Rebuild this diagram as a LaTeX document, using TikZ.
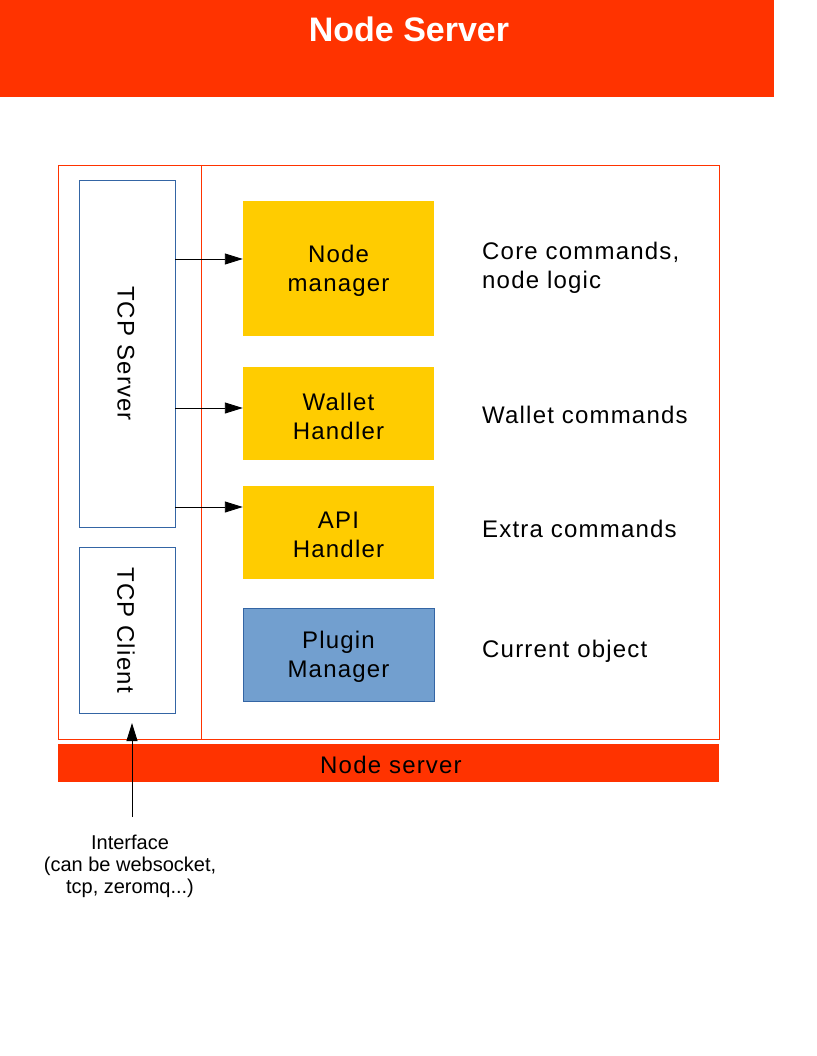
\documentclass[tikz,border=0pt]{standalone}
\usepackage{fontspec}
\setmainfont{Liberation Sans}
\newfontfamily\spacedfont{Liberation Sans}[LetterSpace=5]
\usetikzlibrary{arrows.meta}
\definecolor{hred}{HTML}{FF3300}
\definecolor{yel}{HTML}{FFCC00}
\definecolor{lblue}{HTML}{729FCF}
\definecolor{dblue}{HTML}{3465A4}
\tikzset{
  big/.style={font=\spacedfont\fontsize{24}{29}\selectfont},
  ybox/.style={big, fill=yel, draw=none, minimum width=191pt, align=center, inner sep=0pt},
  tcpbox/.style={draw=dblue, line width=0.8pt, fill=white, minimum width=96pt, inner sep=0pt},
  lbl/.style={big, anchor=west, align=left, inner sep=0pt},
  arr/.style={-{Triangle[length=18pt,width=11pt]}, line width=0.9pt, black},
}
\begin{document}
\begin{tikzpicture}[x=1pt,y=-1pt]
\useasboundingbox[fill=white] (0,0) rectangle (816,1056);
% header
\fill[hred] (0,0) rectangle (774,97);
\node[anchor=base, text=white, inner sep=0pt, font=\fontsize{34}{40}\selectfont\bfseries] (title) at (409,42) {Node Server};
% frame
\draw[hred, line width=0.8pt] (58,165) rectangle (719,739);
\draw[hred, line width=0.8pt] (201,165) -- (201,739);
% TCP boxes
\node[tcpbox, minimum height=347pt] (tcps) at (127,353.5) {};
\node[big, rotate=-90] (tcpst) at (126,353.5) {TCP Server};
\node[tcpbox, minimum height=166pt] (tcpc) at (127,630) {};
\node[big, rotate=-90] (tcpct) at (126,630) {TCP Client};
% modules
\node[ybox, minimum height=135pt] (nm) at (338.5,268.5) {};
\node[big, align=center] (nmt) at (338.5,271) {Node\\manager};
\node[ybox, minimum height=93pt] (wh) at (338.5,413.5) {};
\node[big, align=center] (wht) at (338.5,416) {Wallet\\Handler};
\node[ybox, minimum height=93pt] (ah) at (338.5,532.5) {};
\node[big, align=center] (aht) at (338.5,535) {API\\Handler};
\node[ybox, fill=lblue, draw=dblue, line width=0.8pt, minimum height=93pt] (pm) at (338.5,654.5) {};
\node[big, align=center] (pmt) at (338.5,657) {Plugin\\Manager};
% labels
\node[lbl] (l1) at (482,268) {Core commands,\\node logic};
\node[lbl] (l2) at (482,415) {Wallet commands};
\node[lbl] (l3) at (482,529) {Extra commands};
\node[lbl] (l4) at (482,651) {Current object};
% arrows
\draw[arr] (tcps.east |- 0,259) -- (nm.west |- 0,259);
\draw[arr] (tcps.east |- 0,408) -- (wh.west |- 0,408);
\draw[arr] (tcps.east |- 0,507) -- (ah.west |- 0,507);
% bottom bar
\fill[hred] (58,744) rectangle (719,782);
\node[big, inner sep=0pt] (ns) at (391,765) {Node server};
% interface
\node[align=center, inner sep=0pt, anchor=north, font=\fontsize{20}{22}\selectfont] (iface) at (130,835) {Interface\\(can be websocket,\\tcp, zeromq...)};
\coordinate (ifbot) at (132,817);
\coordinate (iftop) at (132,723);
\draw[arr] (ifbot) -- (iftop);
\end{tikzpicture}
\end{document}
